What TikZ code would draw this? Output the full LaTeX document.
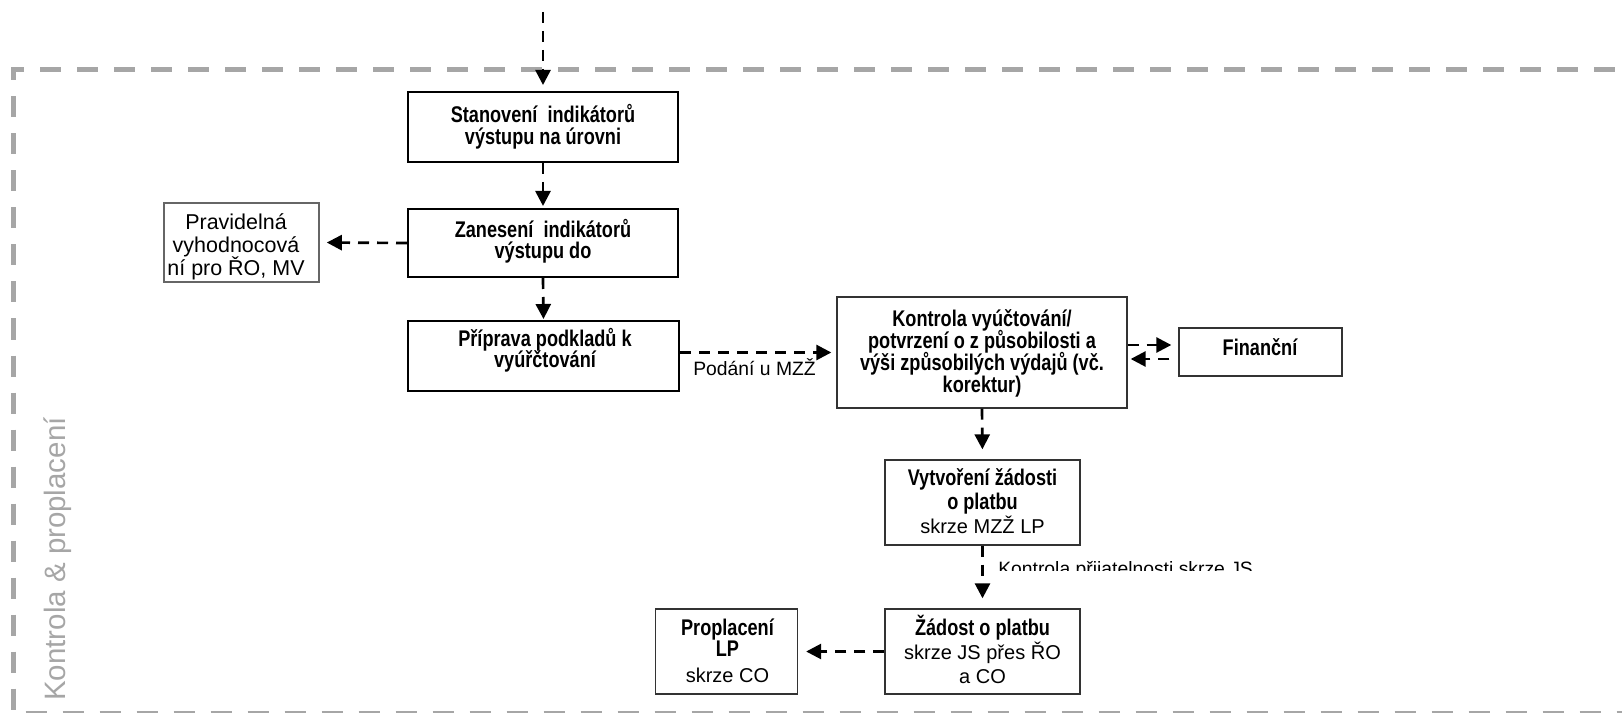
\documentclass[tikz,border=0pt]{standalone}
\usepackage{fontspec}
\setmainfont{Liberation Sans}
\newfontfamily\cbf[FakeStretch=0.8]{Liberation Sans}
\usetikzlibrary{arrows.meta,calc}
\newcommand\mytb[2]{\parbox[t]{260pt}{\centering\lineskiplimit=-20pt\fontsize{17pt}{#1}\selectfont #2\par}}
\newcommand\bx[1]{{\cbf\bfseries #1}}
\newcommand\rg[1]{{\fontsize{15pt}{17pt}\selectfont #1}}
\tikzset{
  box/.style={draw=black, line width=1.5pt, rectangle, inner sep=0pt},
  sbox/.style={draw=black!80, line width=1pt, rectangle, inner sep=0pt},
  pbox/.style={draw=black!60, line width=1.2pt, rectangle, inner sep=0pt},
  flow/.style={draw=black, line width=2pt, dash pattern=on 8.25pt off 6pt, -{Triangle[length=11.25pt,width=11.25pt]}},
  txt/.style={anchor=base, inner sep=0pt},
  lbl/.style={anchor=base west, inner sep=0pt, font=\fontsize{14.5pt}{17pt}\selectfont},
  frame/.style={draw=black!35, line width=3.75pt, dash pattern=on 15.75pt off 12pt, dash phase=1.125pt},
}
\begin{document}
\begin{tikzpicture}[x=0.75pt,y=-0.75pt]
\useasboundingbox (0,0) rectangle (1622,713);
\clip (0,0) rectangle (1622,713);
% swimlane frame
\draw[frame] (1650,70) -- (13,70) -- (13,713) -- (1650,713);
\node[anchor=base west, rotate=90, inner sep=0pt, text=black!35, font=\fontsize{22.1pt}{26pt}\selectfont] (lane) at (65,701) {Kontrola \& proplacení};

% boxes
\node[box, minimum width=202.5pt, minimum height=52.5pt] (b1) at (543,127) {};
\node[box, minimum width=202.5pt, minimum height=51pt] (b2) at (543,243) {};
\node[box, minimum width=203.25pt, minimum height=52.5pt] (b3) at (543.5,356) {};
\node[pbox, minimum width=116.25pt, minimum height=59.25pt] (pr) at (241.5,242.5) {};
\node[sbox, minimum width=217.5pt, minimum height=83.25pt] (ko) at (982,352.5) {};
\node[sbox, minimum width=122.25pt, minimum height=36pt] (fi) at (1260.5,352) {};
\node[sbox, minimum width=146.25pt, minimum height=63.75pt] (vy) at (982.5,502.5) {};
\node[sbox, minimum width=146.25pt, minimum height=63.75pt] (za) at (982.5,651.5) {};
\node[sbox, minimum width=106.5pt, minimum height=63.75pt] (pl) at (726.5,651.5) {};

% texts
\node[txt] (b1t) at (543,123) {\mytb{16pt}{\bx{Stanovení~ indikátorů\\výstupu na úrovni}}};
\node[txt] (b2t) at (543,237.5) {\mytb{16pt}{\bx{Zanesení~ indikátorů\\výstupu do}}};
\node[txt] (b3t) at (545,346) {\mytb{16pt}{\bx{Příprava podkladů k\\vyúřčtování}}};
\node[txt] (prt) at (236,229.3) {\parbox[t]{150pt}{\centering\fontsize{16.1pt}{17.5pt}\selectfont Pravidelná\\vyhodnocová\\ní pro ŘO, MV\par}};
\node[txt] (kot) at (982,326.7) {\mytb{16.4pt}{\bx{Kontrola vyúčtování/\\potvrzení o z působilosti a\\výši způsobilých výdajů (vč.\\korektur)}}};
\node[txt] (fit) at (1260,355) {\mytb{15pt}{\bx{Finanční}}};
\node[txt] (vyt) at (982.5,485) {\mytb{18pt}{\bx{Vytvoření žádosti\\o platbu}\\\rg{skrze MZŽ LP}}};
\node[txt] (zat) at (982.5,635) {\mytb{18pt}{\bx{Žádost o platbu}\\\rg{skrze JS přes ŘO}\\\rg{a CO}}};
\node[txt] (plt) at (727.5,635) {\mytb{15.75pt}{\bx{Proplacení\\LP}\\[4.3pt]\rg{skrze CO}}};

% connectors
\coordinate (top) at (543,12);
\draw[flow, shorten >=4.5pt] (top) -- (b1.north);
\draw[flow, shorten >=1.5pt] (b1.south) -- (b2.north);
\draw[flow, shorten >=0.75pt] (b2.south) -- (b3.north);
\draw[flow, shorten >=5.25pt] (b2.west) -- (pr.east);
\draw[flow, shorten >=3.75pt] (b3.east |- ko.west) -- (ko.west);
\node[lbl] (pod) at (693,375) {Podání u MZŽ};
\draw[flow, shorten >=5.25pt] ($(ko.east)+(0,-7.5)$) -- ($(fi.west)+(0,-7)$);
\draw[flow, shorten <=6.75pt, shorten >=2.25pt] ($(fi.west)+(0,7)$) -- ($(ko.east)+(0,6.5)$);
\draw[flow, shorten >=7.5pt] (ko.south) -- (vy.north);
\draw[flow, shorten >=7.5pt] (vy.south) -- (za.north);
\begin{scope}
\clip (990,540) rectangle (1300,570.7);
\node[lbl] (kpl) at (998,575) {Kontrola přijatelnosti skrze JS};
\end{scope}
\draw[flow, shorten >=6pt] (za.west) -- (pl.east);
\end{tikzpicture}
\end{document}
